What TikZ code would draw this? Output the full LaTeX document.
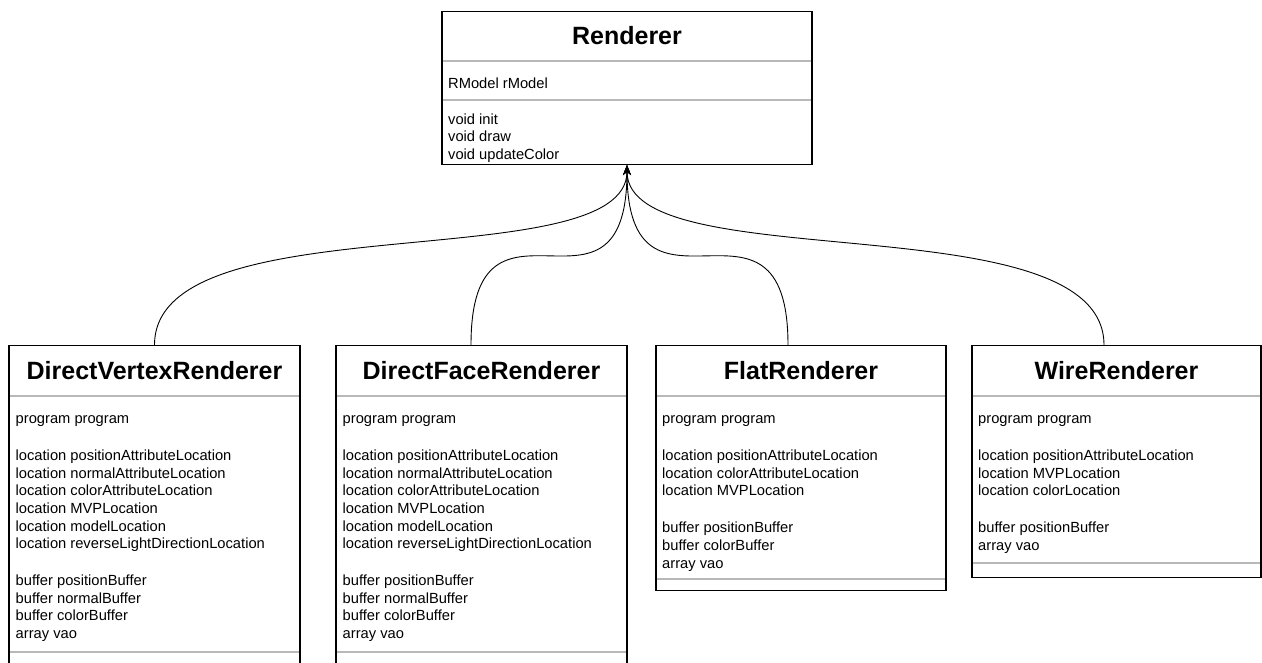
\documentclass[tikz,border=0pt]{standalone}
\usepackage{fontspec}
\setmainfont{Liberation Sans}
\usetikzlibrary{positioning,arrows.meta}

\begin{document}
\begin{tikzpicture}[
  x=1pt, y=-1pt,
  cls/.style={draw, line width=1.1pt, anchor=north, minimum width=290pt, inner sep=0pt},
  title/.style={font=\fontsize{25}{30}\selectfont\bfseries},
  attr/.style={anchor=north west, yshift=12.32pt, align=left, inner sep=0pt,
    font=\fontsize{14.7}{17.6}\selectfont, execute at begin node=\strut},
  sep/.style={draw=black!28, line width=1.1pt, shorten <=1.1pt, shorten >=1.1pt},
  inherit/.style={-{Stealth[length=10pt, width=8pt]}, line width=0.9pt}
]
\useasboundingbox (0,0) rectangle (1262,663);
\clip (0,0) rectangle (1262,663);

\node[cls, minimum width=370pt, minimum height=153pt] (rend) at (627,11) {};
\node[title] (rendT) at (627,36) {Renderer};
\node[attr] (rendA) at (448,88) {RModel rModel};
\node[attr] (rendM) at (448,125.5) {void init\\void draw\\void updateColor};
\draw[sep] ([yshift=-50pt]rend.north west) -- ([yshift=-50pt]rend.north east);
\draw[sep] ([yshift=-89pt]rend.north west) -- ([yshift=-89pt]rend.north east);

\node[cls, minimum width=291pt, minimum height=320pt] (dvr) at (154.5,345) {};
\node[title] (dvrT) at (154.5,370.5) {DirectVertexRenderer};
\node[attr] (dvrA) at (15.5,428) {program program\\[19.4pt]
  location positionAttributeLocation\\location normalAttributeLocation\\
  location colorAttributeLocation\\location MVPLocation\\location modelLocation\\
  location reverseLightDirectionLocation\\[19.4pt]
  buffer positionBuffer\\buffer normalBuffer\\buffer colorBuffer\\array vao};
\draw[sep] ([yshift=-51pt]dvr.north west) -- ([yshift=-51pt]dvr.north east);
\draw[sep] ([yshift=-307pt]dvr.north west) -- ([yshift=-307pt]dvr.north east);

\node[cls, minimum width=291pt, minimum height=320pt] (dfr) at (481.5,345) {};
\node[title] (dfrT) at (481.5,370.5) {DirectFaceRenderer};
\node[attr] (dfrA) at (342.5,428) {program program\\[19.4pt]
  location positionAttributeLocation\\location normalAttributeLocation\\
  location colorAttributeLocation\\location MVPLocation\\location modelLocation\\
  location reverseLightDirectionLocation\\[19.4pt]
  buffer positionBuffer\\buffer normalBuffer\\buffer colorBuffer\\array vao};
\draw[sep] ([yshift=-51pt]dfr.north west) -- ([yshift=-51pt]dfr.north east);
\draw[sep] ([yshift=-307pt]dfr.north west) -- ([yshift=-307pt]dfr.north east);

\node[cls, minimum height=245pt] (flat) at (801,345) {};
\node[title] (flatT) at (801,370.5) {FlatRenderer};
\node[attr] (flatA) at (662,428) {program program\\[19.4pt]
  location positionAttributeLocation\\location colorAttributeLocation\\
  location MVPLocation\\[19.4pt]
  buffer positionBuffer\\buffer colorBuffer\\array vao};
\draw[sep] ([yshift=-51pt]flat.north west) -- ([yshift=-51pt]flat.north east);
\draw[sep] ([yshift=-234pt]flat.north west) -- ([yshift=-234pt]flat.north east);

\node[cls, minimum width=289pt, minimum height=232pt] (wire) at (1116.5,345) {};
\node[title] (wireT) at (1116.5,370.5) {WireRenderer};
\node[attr] (wireA) at (978,428) {program program\\[19.4pt]
  location positionAttributeLocation\\location MVPLocation\\
  location colorLocation\\[19.4pt]
  buffer positionBuffer\\array vao};
\draw[sep] ([yshift=-51pt]wire.north west) -- ([yshift=-51pt]wire.north east);
\draw[sep] ([yshift=-218pt]wire.north west) -- ([yshift=-218pt]wire.north east);

\draw[inherit] (dvr.north) .. controls +(0,-145) and +(0,115) .. (rend.south);
\draw[inherit] ([xshift=-10.5pt]dfr.north) .. controls +(0,-180) and +(0,180) .. (rend.south);
\draw[inherit] ([xshift=-13pt]flat.north) .. controls +(0,-180) and +(0,180) .. (rend.south);
\draw[inherit] ([xshift=-12.5pt]wire.north) .. controls +(0,-145) and +(0,115) .. (rend.south);
\end{tikzpicture}
\end{document}
